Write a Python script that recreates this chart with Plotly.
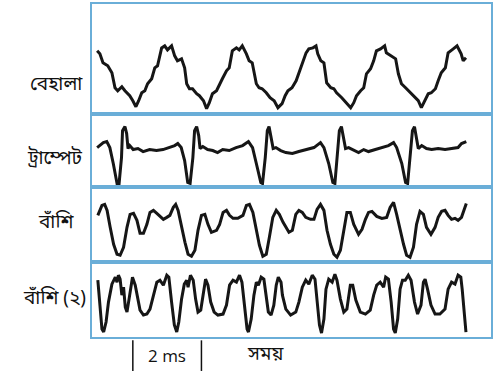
import plotly.graph_objects as go
from plotly.subplots import make_subplots

# Instrument names (Bengali)
labels = ["বেহালা", "ট্রাম্পেট", "বাঁশি", "বাঁশি (২)"]
scale_label = "2 ms"
time_label = "সময়"

# Violin (time in ms, amplitude in arbitrary units)
violin_t = [0.15, 0.23, 0.32, 0.46, 0.58, 0.67, 0.75, 0.87, 0.96, 1.10, 1.19, 1.28, 1.36, 1.45, 1.54, 1.62,
            1.74, 1.83, 1.91, 2.03, 2.12, 2.20, 2.32, 2.41, 2.49, 2.61, 2.70, 2.76, 2.84, 2.93, 3.05, 3.13,
            3.25, 3.34, 3.42, 3.51, 3.63, 3.71, 3.80, 3.92, 4.00, 4.09, 4.21, 4.29, 4.38, 4.50, 4.58, 4.67,
            4.79, 4.87, 4.96, 5.08, 5.19, 5.31, 5.42, 5.54, 5.63, 5.71, 5.83, 5.95, 6.03, 6.12, 6.24, 6.32,
            6.44, 6.53, 6.58, 6.67, 6.76, 6.84, 6.96, 7.05, 7.13, 7.28, 7.42, 7.54, 7.63, 7.71, 7.83, 7.92,
            8.00, 8.12, 8.21, 8.29, 8.41, 8.53, 8.58, 8.70, 8.85, 8.93, 9.02, 9.14, 9.28, 9.43, 9.51, 9.60,
            9.69, 9.80, 9.89, 10.01, 10.09, 10.18, 10.30, 10.38, 10.53, 10.64, 10.76, 10.82, 10.90]
violin_a = [63, 60, 51, 48, 41, 26, 23, 27, 23, 18, 13, 7, 13, 21, 23, 30,
            35, 46, 48, 66, 68, 64, 68, 58, 53, 55, 46, 30, 25, 25, 20, 18,
            13, 5, 11, 20, 23, 28, 35, 43, 46, 63, 66, 64, 68, 60, 53, 51,
            30, 26, 25, 21, 16, 13, 6, 10, 18, 23, 26, 33, 41, 48, 61, 65,
            66, 68, 60, 53, 51, 31, 26, 25, 21, 16, 11, 6, 11, 18, 23, 26,
            40, 45, 53, 63, 65, 68, 61, 58, 55, 40, 30, 26, 21, 16, 13, 6,
            13, 20, 21, 25, 33, 41, 46, 61, 65, 68, 60, 53, 56]

# Trumpet
trumpet_t = [0.15, 0.33, 0.43, 0.52, 0.62, 0.73, 0.79, 0.86, 0.89, 0.96, 1.01, 1.05, 1.10, 1.20, 1.34, 1.49,
             1.68, 1.88, 2.07, 2.26, 2.41, 2.50, 2.60, 2.70, 2.79, 2.86, 2.94, 2.99, 3.05, 3.11, 3.15, 3.23,
             3.37, 3.52, 3.66, 3.81, 4.00, 4.20, 4.39, 4.56, 4.68, 4.79, 4.92, 4.97, 5.05, 5.11, 5.16, 5.21,
             5.28, 5.36, 5.50, 5.65, 5.84, 6.03, 6.23, 6.47, 6.66, 6.76, 6.90, 7.02, 7.08, 7.14, 7.21, 7.27,
             7.34, 7.39, 7.48, 7.63, 7.77, 7.92, 8.06, 8.26, 8.45, 8.64, 8.79, 8.88, 9.03, 9.14, 9.20, 9.27,
             9.34, 9.40, 9.46, 9.51, 9.61, 9.75, 9.90, 10.09, 10.29, 10.48, 10.67, 10.77, 10.91]
trumpet_a = [40, 45, 46, 40, 24, 4, 4, 30, 57, 61, 54, 39, 42, 38, 39, 36,
             38, 37, 38, 40, 42, 44, 40, 27, 5, 4, 30, 57, 61, 52, 39, 41,
             38, 37, 35, 38, 37, 40, 42, 46, 40, 24, 5, 4, 30, 57, 61, 52,
             39, 40, 37, 35, 34, 36, 38, 40, 45, 40, 24, 5, 4, 30, 57, 61,
             50, 39, 40, 37, 35, 38, 36, 38, 40, 42, 45, 40, 24, 5, 4, 30,
             57, 61, 50, 39, 42, 39, 38, 39, 38, 39, 40, 44, 46]

# Flute
flute_t = [0.17, 0.29, 0.37, 0.44, 0.53, 0.63, 0.73, 0.82, 0.92, 1.02, 1.11, 1.21, 1.31, 1.40, 1.50, 1.60,
           1.69, 1.79, 1.89, 1.98, 2.08, 2.18, 2.27, 2.37, 2.44, 2.51, 2.61, 2.71, 2.80, 2.90, 3.00, 3.09,
           3.19, 3.29, 3.38, 3.48, 3.63, 3.72, 3.82, 3.92, 4.01, 4.11, 4.25, 4.40, 4.50, 4.59, 4.69, 4.79,
           4.88, 4.98, 5.08, 5.17, 5.27, 5.37, 5.46, 5.57, 5.74, 5.84, 5.94, 6.03, 6.13, 6.23, 6.37, 6.47,
           6.56, 6.66, 6.76, 6.85, 6.95, 7.05, 7.14, 7.24, 7.34, 7.43, 7.53, 7.63, 7.77, 7.87, 7.97, 8.06,
           8.16, 8.30, 8.45, 8.59, 8.69, 8.79, 8.88, 8.98, 9.08, 9.17, 9.27, 9.37, 9.46, 9.56, 9.66, 9.75,
           9.88, 10.00, 10.09, 10.19, 10.29, 10.38, 10.48, 10.58, 10.67, 10.77, 10.87, 10.91]
flute_a = [47, 57, 58, 52, 35, 18, 8, 7, 15, 35, 48, 49, 42, 29, 29, 38,
           50, 52, 49, 46, 43, 45, 47, 55, 58, 52, 35, 20, 8, 6, 12, 32,
           47, 48, 38, 30, 32, 38, 50, 52, 47, 44, 44, 47, 57, 58, 50, 32,
           17, 6, 8, 25, 45, 52, 48, 40, 30, 32, 48, 52, 50, 45, 43, 43,
           53, 58, 52, 32, 18, 8, 5, 12, 32, 50, 50, 38, 28, 33, 43, 50,
           51, 46, 44, 45, 55, 60, 48, 32, 18, 7, 5, 15, 38, 51, 48, 35,
           28, 35, 45, 51, 52, 47, 43, 44, 42, 45, 55, 59]

# Flute (2)
flute2_t = [0.17, 0.29, 0.34, 0.41, 0.48, 0.58, 0.68, 0.73, 0.77, 0.82, 0.87, 0.92, 0.97, 1.02, 1.08, 1.14,
            1.18, 1.26, 1.33, 1.40, 1.50, 1.60, 1.69, 1.79, 1.89, 1.98, 2.08, 2.18, 2.24, 2.32, 2.40, 2.47,
            2.53, 2.61, 2.69, 2.76, 2.80, 2.87, 2.95, 3.02, 3.09, 3.17, 3.24, 3.31, 3.38, 3.46, 3.56, 3.67,
            3.82, 3.92, 4.01, 4.11, 4.21, 4.30, 4.37, 4.45, 4.52, 4.56, 4.64, 4.72, 4.79, 4.85, 4.93, 5.01,
            5.08, 5.14, 5.22, 5.30, 5.37, 5.43, 5.51, 5.55, 5.65, 5.79, 5.94, 6.03, 6.13, 6.23, 6.32, 6.42,
            6.50, 6.56, 6.63, 6.69, 6.76, 6.82, 6.90, 7.00, 7.08, 7.14, 7.24, 7.34, 7.43, 7.53, 7.60, 7.69,
            7.82, 7.97, 8.11, 8.21, 8.30, 8.40, 8.50, 8.56, 8.64, 8.72, 8.79, 8.84, 8.91, 8.98, 9.05, 9.13,
            9.22, 9.30, 9.40, 9.49, 9.59, 9.66, 9.71, 9.78, 9.88, 10.00, 10.14, 10.29, 10.38, 10.48, 10.58, 10.67,
            10.75, 10.79, 10.85, 10.90]
flute2_a = [57, 8, 5, 15, 35, 53, 60, 55, 62, 58, 42, 50, 30, 25, 38, 52,
            60, 52, 38, 27, 22, 23, 28, 42, 55, 57, 52, 62, 60, 35, 12, 5,
            15, 38, 53, 57, 50, 62, 57, 38, 25, 27, 42, 58, 52, 35, 25, 22,
            23, 32, 52, 57, 55, 62, 55, 32, 8, 5, 18, 42, 55, 52, 60, 58,
            42, 25, 22, 32, 52, 60, 55, 42, 28, 22, 25, 35, 50, 57, 53, 62,
            58, 35, 12, 4, 18, 48, 58, 55, 63, 57, 38, 25, 28, 52, 52, 37,
            25, 23, 27, 42, 52, 55, 50, 60, 58, 35, 8, 4, 18, 48, 57, 57,
            62, 57, 35, 23, 32, 55, 58, 48, 32, 23, 23, 28, 48, 55, 53, 62,
            60, 48, 28, 5]

series_t = [violin_t, trumpet_t, flute_t, flute2_t]
series_a = [violin_a, trumpet_a, flute_a, flute2_a]
panel_spans = [110, 74, 75, 75]   # amplitude span of each panel
time_span = [0, 11.63]            # ms
scale_bar = [1.19, 3.19]          # ms

frame = "#6aaed8"
ink = "#161616"

fig = make_subplots(rows=4, cols=1, shared_xaxes=True, vertical_spacing=0,
                    row_heights=panel_spans)

for i in range(4):
    fig.add_trace(go.Scatter(x=series_t[i], y=series_a[i], mode="lines",
                             line=dict(color=ink, width=3), showlegend=False,
                             hoverinfo="skip"), row=i + 1, col=1)
    fig.update_yaxes(range=[0, panel_spans[i]], row=i + 1, col=1)

fig.update_xaxes(range=time_span, showline=True, mirror=True, linecolor=frame, linewidth=2,
                 showgrid=False, zeroline=False, showticklabels=False, ticks="")
fig.update_yaxes(showline=True, mirror=True, linecolor=frame, linewidth=2,
                 showgrid=False, zeroline=False, showticklabels=False, ticks="")

bengali = "Noto Sans Bengali, Noto Serif Bengali, Lohit Bengali, Vrinda, sans-serif"
label_y = [0.755, 0.535, 0.342, 0.115]
label_x = [-0.018, -0.018, -0.04, -0.01]
for i, lab in enumerate(labels):
    fig.add_annotation(text=lab, xref="paper", yref="paper", x=label_x[i], y=label_y[i],
                       xanchor="right", yanchor="middle", showarrow=False,
                       font=dict(size=19, color="#111", family=bengali))

# scale bar
for xv in scale_bar:
    fig.add_shape(type="line", xref="x4", yref="paper", x0=xv, x1=xv, y0=-0.01, y1=-0.102,
                  line=dict(color="#111", width=1.5))
fig.add_annotation(text=scale_label, xref="x4", yref="paper", x=sum(scale_bar) / 2, y=-0.056,
                   showarrow=False, xanchor="center", yanchor="middle",
                   font=dict(size=17, color="#111", family="Open Sans, sans-serif"))
fig.add_annotation(text=time_label, xref="x4", yref="paper", x=5.05, y=-0.056,
                   showarrow=False, xanchor="center", yanchor="middle",
                   font=dict(size=19, color="#111", family=bengali))

fig.update_layout(width=495, height=376, margin=dict(l=92, r=2, t=3, b=39),
                  paper_bgcolor="white", plot_bgcolor="white")

fig.write_html("out.html", config={"displayModeBar": False},
               post_script="document.body.style.margin='0';")
